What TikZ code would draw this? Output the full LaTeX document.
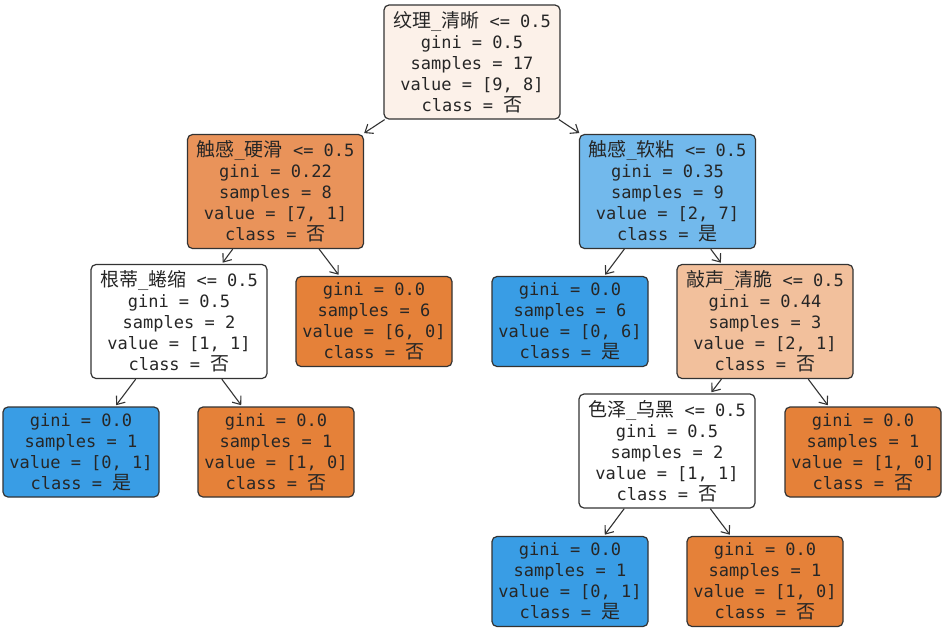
\documentclass[tikz,border=0pt]{standalone}
\usepackage{fontspec}
\usetikzlibrary{arrows.meta}
\newfontfamily\monof{DejaVu Sans Mono}
\newfontfamily\cjkf{Noto Sans CJK SC}
\newcommand\zh[1]{{\cjkf\fontsize{19}{21}\selectfont #1}}
\definecolor{corg}{HTML}{E58139}
\definecolor{cblu}{HTML}{399DE5}
\definecolor{croot}{HTML}{FCF1E9}
\definecolor{cone}{HTML}{E9935A}
\definecolor{ctwo}{HTML}{72B9EC}
\definecolor{csix}{HTML}{F2C09C}
\definecolor{edgec}{HTML}{333333}
\tikzset{
  base/.style={draw=edgec, line width=1.2pt, rounded corners=5pt, align=center,
    inner sep=0pt, font={\monof\fontsize{17}{21}\selectfont}, text=black!85},
  inner/.style={base, minimum width=176pt, minimum height=114pt},
  leaf/.style={base, minimum width=156pt, minimum height=90pt},
  arr/.style={-{Straight Barb[length=7pt,width=11pt]}, line width=1.1pt, draw=black!80, shorten >=1.5pt}
}
\begin{document}
\begin{tikzpicture}[x=1pt,y=-1pt]
\useasboundingbox[fill=white] (0,0) rectangle (945,630);
\node[inner, fill=croot] (n0) at (472,62) {\zh{纹理}\_\zh{清晰} <= 0.5\\gini = 0.5\\samples = 17\\value = [9, 8]\\class = \zh{否}};
\node[inner, fill=cone] (n1) at (275.5,191.5) {\zh{触感}\_\zh{硬滑} <= 0.5\\gini = 0.22\\samples = 8\\value = [7, 1]\\class = \zh{否}};
\node[inner, fill=ctwo] (n2) at (667.5,191.5) {\zh{触感}\_\zh{软粘} <= 0.5\\gini = 0.35\\samples = 9\\value = [2, 7]\\class = \zh{是}};
\node[inner, fill=white] (n3) at (179,321.5) {\zh{根蒂}\_\zh{蜷缩} <= 0.5\\gini = 0.5\\samples = 2\\value = [1, 1]\\class = \zh{否}};
\node[leaf, fill=corg] (n4) at (374,321.5) {gini = 0.0\\samples = 6\\value = [6, 0]\\class = \zh{否}};
\node[leaf, fill=cblu] (n5) at (570,321.5) {gini = 0.0\\samples = 6\\value = [0, 6]\\class = \zh{是}};
\node[inner, fill=csix] (n6) at (765,321.5) {\zh{敲声}\_\zh{清脆} <= 0.5\\gini = 0.44\\samples = 3\\value = [2, 1]\\class = \zh{否}};
\node[leaf, fill=cblu] (n7) at (81,452) {gini = 0.0\\samples = 1\\value = [0, 1]\\class = \zh{是}};
\node[leaf, fill=corg] (n8) at (276,452) {gini = 0.0\\samples = 1\\value = [1, 0]\\class = \zh{否}};
\node[inner, fill=white] (n9) at (667,451) {\zh{色泽}\_\zh{乌黑} <= 0.5\\gini = 0.5\\samples = 2\\value = [1, 1]\\class = \zh{否}};
\node[leaf, fill=corg] (n10) at (863,452) {gini = 0.0\\samples = 1\\value = [1, 0]\\class = \zh{否}};
\node[leaf, fill=cblu] (n11) at (570,581.5) {gini = 0.0\\samples = 1\\value = [0, 1]\\class = \zh{是}};
\node[leaf, fill=corg] (n12) at (765,581.5) {gini = 0.0\\samples = 1\\value = [1, 0]\\class = \zh{否}};
\draw[arr] (n0) -- (n1);
\draw[arr] (n0) -- (n2);
\draw[arr] (n1) -- (n3);
\draw[arr] (n1) -- (n4);
\draw[arr] (n2) -- (n5);
\draw[arr] (n2) -- (n6);
\draw[arr] (n3) -- (n7);
\draw[arr] (n3) -- (n8);
\draw[arr] (n6) -- (n9);
\draw[arr] (n6) -- (n10);
\draw[arr] (n9) -- (n11);
\draw[arr] (n9) -- (n12);
\end{tikzpicture}
\end{document}
